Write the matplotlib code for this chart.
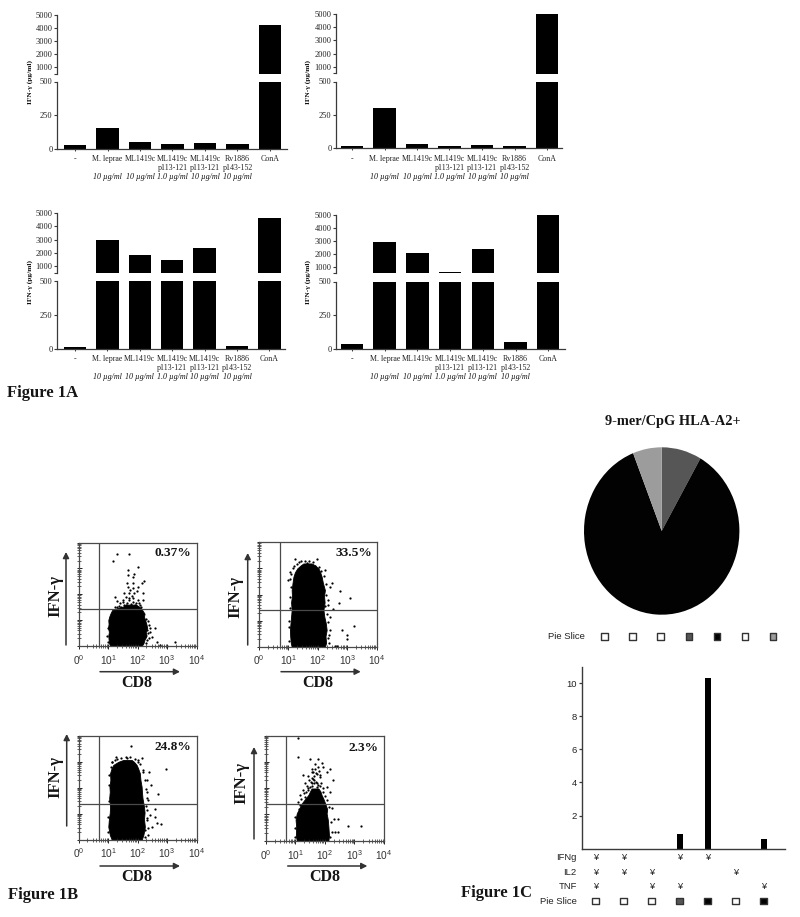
import numpy as np
import matplotlib
matplotlib.use("Agg")
import matplotlib.pyplot as plt
from matplotlib.ticker import FixedLocator, NullFormatter

# ---------- data ----------
CATEGORIES = ["-", "M. leprae", "ML1419c", "ML1419c\np113-121", "ML1419c\np113-121", "Rv1886\np143-152", "ConA"]
DOSES = ["", "10 µg/ml", "10 µg/ml", "1.0 µg/ml", "10 µg/ml", "10 µg/ml", ""]
A1_VALUES = [25, 150, 50, 30, 40, 30, 4200]
A2_VALUES = [15, 300, 35, 20, 25, 15, 5000]
A3_VALUES = [10, 3000, 1850, 1500, 2350, 20, 4600]
A4_VALUES = [30, 2900, 2050, 650, 2350, 50, 5000]
LOWER_TICKS = [0, 250, 500]
UPPER_TICKS = [500, 1000, 2000, 3000, 4000, 5000]
UPPER_LABELS = ["", "1000", "2000", "3000", "4000", "5000"]

# dense flow-cytometry clouds: outline read per IFN-g level (decades), plus single events
S1_LEVEL = [0, .1, .25, .4, .55, .7, .85, 1, 1.13, 1.25, 1.39, 1.45, 1.52, 1.6]
S1_LEFT = [1.07, 1.04, 1.02, 1.01, 1.03, 1.00, 1.02, 1.01, 1.04, 1.08, 1.14, 1.28, 1.5, 1.62]
S1_RIGHT = [2.14, 2.20, 2.24, 2.31, 2.28, 2.33, 2.30, 2.26, 2.22, 2.24, 2.16, 2.13, 2.05, 1.95]
S1_EVENT_X = [1.32, 1.72, 1.18, 2.03, 1.69, 1.89, 1.69, 1.84, 2.23, 1.63, 1.86, 2.14, 2.03, 1.67, 1.84, 1.54, 1.72,
              1.97, 1.89, 1.24, 1.32, 2.20, 2.20, 1.52, 1.72, 1.86, 2.03, 1.41, 1.61, 1.86, 2.08, 1.24, 1.41, 2.42,
              2.59, 2.37, 2.48, 2.65, 3.27, 2.76, 2.99, 2.31, 2.25,
              1.30, 1.45, 1.55, 1.65, 1.78, 1.92, 2.00, 2.12, 1.38, 1.50, 1.70, 1.80, 1.95, 2.05, 1.60, 1.75,
              2.35, 2.38, 2.30, 2.42, 2.33, 2.28, 2.40, 0.98, 1.00, 0.99]
S1_EVENT_Y = [3.55, 3.55, 3.29, 3.04, 2.93, 2.80, 2.74, 2.68, 2.52, 2.44, 2.44, 2.42, 2.29, 2.29, 2.23, 2.03, 2.03,
              2.14, 2.03, 1.90, 1.75, 2.03, 1.77, 1.77, 1.84, 1.84, 1.77, 1.65, 1.58, 1.71, 1.58, 1.49, 1.45, 0.68,
              0.68, 0.49, 0.36, 0.17, 0.17, 0.04, 0.01, 0.62, 0.36,
              1.50, 1.52, 1.60, 1.68, 1.62, 1.60, 1.52, 1.50, 1.56, 1.70, 1.78, 1.95, 1.68, 1.66, 1.90, 2.15,
              0.95, 0.80, 1.05, 0.55, 0.25, 0.10, 0.30, 0.40, 0.70, 0.15]

S2_LEVEL = [0, .15, .4, .64, .9, 1.15, 1.41, 1.7, 1.95, 2.17, 2.45, 2.68, 2.85, 3.0, 3.12, 3.19]
S2_LEFT = [1.11, 1.08, 1.06, 1.05, 1.07, 1.09, 1.11, 1.09, 1.12, 1.11, 1.14, 1.17, 1.22, 1.30, 1.42, 1.51]
S2_RIGHT = [2.24, 2.28, 2.26, 2.30, 2.27, 2.22, 2.19, 2.23, 2.21, 2.24, 2.17, 2.13, 2.08, 2.02, 1.90, 1.79]
S2_EVENT_X = [1.22, 1.96, 1.05, 2.24, 2.47, 2.75, 3.09, 2.73, 2.53, 2.81, 3.24, 2.98, 2.98, 2.58, 2.64, 2.41, 2.41,
              2.36, 2.41, 2.36, 1.03, 1.00, 1.62,
              1.03, 1.02, 1.06, 1.04, 1.08, 1.07, 1.10, 1.15, 1.20, 1.28, 1.35, 1.42, 1.55, 1.70, 1.82, 1.92, 2.05,
              2.12, 2.20, 2.28, 2.27, 2.33, 2.30, 2.35, 2.37, 2.25, 2.38]
S2_EVENT_Y = [3.35, 3.35, 2.88, 2.94, 2.45, 2.15, 1.88, 1.66, 1.43, 0.64, 0.79, 0.45, 0.28, 0.03, 0.03, 1.15, 0.64,
              0.32, 2.30, 1.79, 0.77, 2.56, 3.22,
              0.2, 1.0, 1.5, 1.9, 2.3, 2.6, 2.8, 3.0, 3.1, 3.15, 3.25, 3.3, 3.3, 3.3, 3.25, 3.1, 3.05,
              2.9, 2.7, 2.4, 2.0, 1.6, 1.25, 0.95, 0.45, 1.55, 0.15]

S3_LEVEL = [0, .2, .51, .8, 1.05, 1.28, 1.6, 1.85, 2.04, 2.3, 2.56, 2.75, 2.88, 3.0, 3.07]
S3_LEFT = [1.13, 1.06, 1.01, 1.03, 1.06, 1.07, 1.04, 1.06, 1.05, 1.08, 1.07, 1.12, 1.18, 1.35, 1.52]
S3_RIGHT = [2.14, 2.20, 2.25, 2.22, 2.24, 2.22, 2.17, 2.15, 2.14, 2.10, 2.08, 2.02, 1.97, 1.88, 1.80]
S3_EVENT_X = [1.77, 1.26, 1.63, 2.14, 1.13, 2.03, 2.95, 2.39, 2.20, 2.31, 2.45, 2.70, 2.31, 2.37, 2.59, 2.42, 2.59,
              2.65, 2.79, 2.37, 2.48, 2.31, 2.31, 2.25,
              1.0, 0.99, 1.03, 1.02, 1.05, 1.10, 1.15, 1.25, 1.32, 1.45, 1.60, 1.75, 1.90, 2.00, 2.10, 2.18, 2.25,
              2.30, 2.33, 2.28, 2.32, 2.27, 2.35]
S3_EVENT_Y = [3.62, 3.19, 3.16, 3.13, 3.00, 3.00, 2.71, 2.62, 2.68, 2.30, 2.11, 1.76, 1.85, 1.53, 1.18, 0.96, 0.89,
              0.64, 0.60, 0.45, 0.49, 1.15, 0.77, 0.13,
              0.3, 0.9, 1.5, 2.1, 2.5, 2.8, 3.0, 3.05, 3.1, 3.15, 3.18, 3.2, 3.1, 3.05, 2.9, 2.6, 2.3,
              1.95, 1.6, 1.3, 0.85, 0.4, 0.2]

S4_LEVEL = [0, .2, .53, .8, 1.04, 1.2, 1.42, 1.6, 1.74, 1.88, 1.99]
S4_LEFT = [1.05, 1.02, 1.03, 1.01, 1.05, 1.12, 1.22, 1.34, 1.44, 1.50, 1.55]
S4_RIGHT = [2.12, 2.14, 2.12, 2.10, 2.06, 2.08, 2.01, 1.95, 1.89, 1.85, 1.78]
S4_EVENT_X = [1.10, 1.10, 1.50, 1.78, 1.67, 1.89, 1.95, 2.17, 2.06, 1.27, 1.44, 1.70, 1.61, 1.84, 2.29, 1.33, 1.55,
              1.78, 2.06, 1.27, 1.44, 1.95, 2.17, 1.16, 1.33, 1.10, 2.23, 2.32, 2.46, 2.79, 3.21, 2.23, 2.34, 2.46,
              2.17,
              1.35, 1.42, 1.50, 1.58, 1.63, 1.70, 1.75, 1.82, 1.88, 1.93, 1.48, 1.56, 1.65, 1.72, 1.80, 1.40, 1.52,
              1.60, 1.68, 1.76, 1.85, 1.20, 1.28, 1.12, 1.15, 2.00, 2.08, 2.15, 2.20, 0.99, 1.0, 0.98, 1.58, 1.64,
              1.72, 1.50, 1.58]
S4_EVENT_Y = [3.92, 3.17, 3.10, 3.10, 2.91, 2.95, 2.82, 2.72, 2.63, 2.50, 2.46, 2.57, 2.34, 2.41, 2.31, 2.21, 2.18,
              2.12, 2.06, 1.93, 1.99, 1.87, 1.87, 1.74, 1.68, 1.49, 1.23, 0.83, 0.83, 0.57, 0.57, 0.34, 0.34, 0.34,
              0.15,
              1.85, 1.95, 2.05, 2.10, 2.20, 2.25, 2.05, 2.10, 2.20, 2.00, 2.30, 2.40, 2.45, 2.55, 2.65, 2.10, 2.22,
              2.62, 2.72, 2.80, 2.50, 1.60, 1.80, 1.20, 1.35, 1.70, 1.55, 1.30, 0.70, 0.50, 0.15, 0.90, 2.75, 2.32,
              2.18, 1.72, 2.60]
S_GATE_X = 0.70
S1_GATE_Y, S2_GATE_Y, S3_GATE_Y, S4_GATE_Y = 1.44, 1.40, 1.38, 1.39
S_PERCENT = ["0.37%", "33.5%", "24.8%", "2.3%"]

PIE_VALUES = [8.3, 85.7, 6.0]
PIE_COLORS = ["#565656", "#020202", "#9c9c9c"]
PIE_KEY_COLORS = ["white", "white", "white", "#565656", "#020202", "white", "#9c9c9c"]
C_VALUES = [0, 0, 0, 0.9, 10.3, 0, 0.6]
C_TICKS = [2, 4, 6, 8, 10]
C_KEY_COLORS = ["white", "white", "white", "#565656", "#020202", "white", "#020202"]
IFNG_ROW = [0, 1, 3, 4]
IL2_ROW = [0, 1, 2, 5]
TNF_ROW = [0, 2, 3, 6]

# ---------- layout helpers ----------
W, H = 800, 917
SERIF = ["Liberation Serif", "DejaVu Serif"]
SANS = ["Liberation Sans", "DejaVu Sans"]
LINE = "#3a3a3a"
plt.rcParams["font.family"] = SERIF
plt.rcParams["mathtext.default"] = "regular"
fig = plt.figure(figsize=(W / 100, H / 100), dpi=100, facecolor="white")


def ax_px(l, t, r, b):
    ax = fig.add_axes([l / W, 1 - b / H, (r - l) / W, (b - t) / H])
    ax.patch.set_alpha(0)
    return ax


ov = ax_px(0, 0, W, H)
ov.set_xlim(0, W)
ov.set_ylim(H, 0)
ov.axis("off")


def bar_panel(values, x0, x1, c0, step, y0, y500, y5000, ylabel_x):
    low = ax_px(x0, y500, x1, y0)
    up = ax_px(x0, y5000, x1, y500 - 8)
    pos = np.arange(len(values))
    lims = ((x0 - c0) / step, (x1 - c0) / step)
    low.bar(pos, values, width=22.5 / step, color="black")
    up.bar(pos, [max(v - 500, 0) for v in values], bottom=500, width=22.5 / step, color="black")
    low.set_xlim(*lims)
    up.set_xlim(*lims)
    low.set_ylim(0, 500)
    up.set_ylim(500, 5000)
    low.set_yticks(LOWER_TICKS)
    up.set_yticks(UPPER_TICKS, UPPER_LABELS)
    up.set_xticks([])
    low.set_xticks(pos, [""] * len(pos))
    for ax in (low, up):
        for s in ("top", "right"):
            ax.spines[s].set_visible(False)
        ax.spines["left"].set_color(LINE)
        ax.spines["left"].set_linewidth(0.9)
        ax.tick_params(axis="y", length=2.2, width=0.8, color=LINE, pad=1, labelsize=6, labelcolor="#222222")
    up.spines["bottom"].set_visible(False)
    low.spines["bottom"].set_color(LINE)
    low.spines["bottom"].set_linewidth(0.9)
    low.tick_params(axis="x", length=1.5, width=0.7, color=LINE)
    for i, (cat, dose) in enumerate(zip(CATEGORIES, DOSES)):
        low.annotate(cat, (i, 0), xytext=(0, -4.6), textcoords="offset points", ha="center", va="top",
                     fontsize=5.7, color="#222222", linespacing=1.15, annotation_clip=False)
        if dose:
            low.annotate(dose, (i, 0), xytext=(0, -17.6), textcoords="offset points", ha="center", va="top",
                         fontsize=5.8, style="italic", color="#111111", annotation_clip=False)
    ov.text(ylabel_x, (y500 + y0) / 2 - 33, "IFN-γ (pg/ml)", rotation=90, ha="center", va="center",
            fontsize=5.4, weight="bold", color="#111111")


bar_panel(A1_VALUES, 57, 287, 75, 32.5, 148.5, 81.5, 15, 30)
bar_panel(A2_VALUES, 336, 562, 352, 32.5, 148.3, 81.5, 14, 308)
bar_panel(A3_VALUES, 57, 285, 75, 32.4, 348.5, 281, 213, 30)
bar_panel(A4_VALUES, 336, 565, 352, 32.7, 348.5, 281.5, 215, 308)


def scatter_panel(level, left, right, ex, ey, gate_y, pct, box, arrow_y, cd8_y, ylab_x, ylab_y, yarrow, xarrow, tick_py,
                  pct_xy):
    l, t, r, b = box
    ax = ax_px(l, t, r, b)
    ax.fill_betweenx(level, left, right, color="black", lw=0.6)
    ax.scatter(ex, ey, s=2.6, color="black", linewidths=0, clip_on=False)
    ax.axvline(S_GATE_X, color="#4a4a4a", lw=0.9)
    ax.axhline(gate_y, color="#4a4a4a", lw=0.9)
    ax.set_xlim(0, 4)
    ax.set_ylim(0, 4)
    minor = [d + np.log10(k) for d in range(4) for k in range(2, 10)]
    for axis in (ax.xaxis, ax.yaxis):
        axis.set_major_locator(FixedLocator([0, 1, 2, 3, 4]))
        axis.set_minor_locator(FixedLocator(minor))
        axis.set_minor_formatter(NullFormatter())
    ax.tick_params(which="major", direction="inout", length=3.6, width=0.7, color="#222222")
    ax.tick_params(which="minor", direction="inout", length=2.2, width=0.5, color="#222222")
    ax.set_yticklabels([])
    ax.set_xticklabels([])
    for s in ax.spines.values():
        s.set_color("#4a4a4a")
        s.set_linewidth(0.9)
    for i in range(5):
        xp = l + (r - l) * i / 4
        txt = r"0$^{0}$" if i == 0 else rf"10$^{{{i}}}$"
        ov.text(xp, tick_py, txt, ha="center", va="center", family=SANS, fontsize=7.3, color="#333333")
    ov.text(pct_xy[0], pct_xy[1], pct, ha="right", va="center", fontsize=9.6, weight="bold", color="#151515")
    ov.text(ylab_x, ylab_y, "IFN-γ", rotation=90, ha="center", va="center", fontsize=12, weight="bold",
            color="#151515")
    ov.text((xarrow[0] + xarrow[1]) / 2 - 3, cd8_y, "CD8", ha="center", va="center", fontsize=11.5, weight="bold",
            color="#151515")
    style = dict(arrowstyle="-|>,head_length=0.35,head_width=0.18", color="#333333", lw=1.1, shrinkA=0, shrinkB=0)
    ov.annotate("", xy=(xarrow[1], arrow_y), xytext=(xarrow[0], arrow_y), arrowprops=style)
    ov.annotate("", xy=(yarrow[0], yarrow[2]), xytext=(yarrow[0], yarrow[1]), arrowprops=style)


scatter_panel(S1_LEVEL, S1_LEFT, S1_RIGHT, S1_EVENT_X, S1_EVENT_Y, S1_GATE_Y, S_PERCENT[0], (78.5, 542.5, 196.5, 646),
              671.7, 683, 55, 596, (66, 645, 552), (100, 180), 660, (191, 552.7))
scatter_panel(S2_LEVEL, S2_LEFT, S2_RIGHT, S2_EVENT_X, S2_EVENT_Y, S2_GATE_Y, S_PERCENT[1], (259, 542.3, 376.7, 646.7),
              671.7, 682.7, 235, 596.7, (247.7, 645, 553), (281, 360.7), 660, (372.3, 552.7))
scatter_panel(S3_LEVEL, S3_LEFT, S3_RIGHT, S3_EVENT_X, S3_EVENT_Y, S3_GATE_Y, S_PERCENT[2], (78.5, 735.7, 196.5, 840),
              866, 876.7, 55, 777, (66.7, 826, 734), (100, 180), 853, (191, 747.3))
scatter_panel(S4_LEVEL, S4_LEFT, S4_RIGHT, S4_EVENT_X, S4_EVENT_Y, S4_GATE_Y, S_PERCENT[3], (265.7, 735.7, 384, 840.7),
              866, 876.7, 241.7, 782.5, (254, 839, 747), (287.7, 367.3), 855, (378.3, 747.7))

# pie (drawn slightly taller than wide, as in the reference)
pie = ax_px(584, 447.3, 739.4, 614.7)
pie.pie(PIE_VALUES, colors=PIE_COLORS, startangle=90, counterclock=False, radius=1.0)
pie.set_aspect("auto")
pie.set_xlim(-1, 1)
pie.set_ylim(-1, 1)
ov.text(673, 421, "9-mer/CpG HLA-A2+", ha="center", va="center", fontsize=10.4, weight="bold", color="#151515")

key_ax = ax_px(590.6, 630, 787, 643)
key_ax.set_xlim(-0.5, 6.5)
key_ax.set_ylim(0, 1)
key_ax.axis("off")
key_ax.scatter(range(7), [0.5] * 7, marker="s", s=22, c=PIE_KEY_COLORS, edgecolors="#333333", linewidths=1.0)
ov.text(585, 636.5, "Pie Slice", ha="right", va="center", family=SANS, fontsize=6.8, color="#222222")

# figure 1C bars
cx0, cx1, cstep, cc0 = 581.7, 785, 28.0, 595.7
lims = ((cx0 - cc0) / cstep, (cx1 - cc0) / cstep)
cax = ax_px(cx0, 666.7, cx1, 848.6)
cax.bar(range(7), C_VALUES, width=6 / cstep, color="black")
cax.set_xlim(*lims)
cax.set_ylim(0, 181.9 / 16.55)
cax.set_yticks(C_TICKS)
cax.set_xticks([])
for s in ("top", "right"):
    cax.spines[s].set_visible(False)
for s in ("left", "bottom"):
    cax.spines[s].set_color(LINE)
    cax.spines[s].set_linewidth(1.0)
cax.tick_params(axis="y", length=2, width=0.9, color=LINE, pad=1.5, labelsize=6.8, labelcolor="#222222")
for lab in cax.get_yticklabels():
    lab.set_family(SANS)

rows = ax_px(cx0, 851, cx1, 908.5)
rows.set_xlim(*lims)
rows.set_ylim(3.5, -0.45)
rows.axis("off")
for r, (name, idx) in enumerate([("IFNg", IFNG_ROW), ("IL2", IL2_ROW), ("TNF", TNF_ROW)]):
    rows.text(-0.68, r, name, ha="right", va="center", family=SANS, fontsize=6.8, color="#222222")
    for i in idx:
        rows.text(i, r, "¥", ha="center", va="center", family=SANS, fontsize=6.6, color="#222222")
rows.text(-0.68, 3, "Pie Slice", ha="right", va="center", family=SANS, fontsize=6.8, color="#222222")
rows.scatter(range(7), [3] * 7, marker="s", s=22, c=C_KEY_COLORS, edgecolors="#333333", linewidths=1.0)

ov.text(7, 393, "Figure 1A", ha="left", va="center", fontsize=12, weight="bold", color="#151515")
ov.text(8, 895, "Figure 1B", ha="left", va="center", fontsize=12, weight="bold", color="#151515")
ov.text(461, 893, "Figure 1C", ha="left", va="center", fontsize=12, weight="bold", color="#151515")

fig.savefig("out.png", dpi=100, facecolor="white")
